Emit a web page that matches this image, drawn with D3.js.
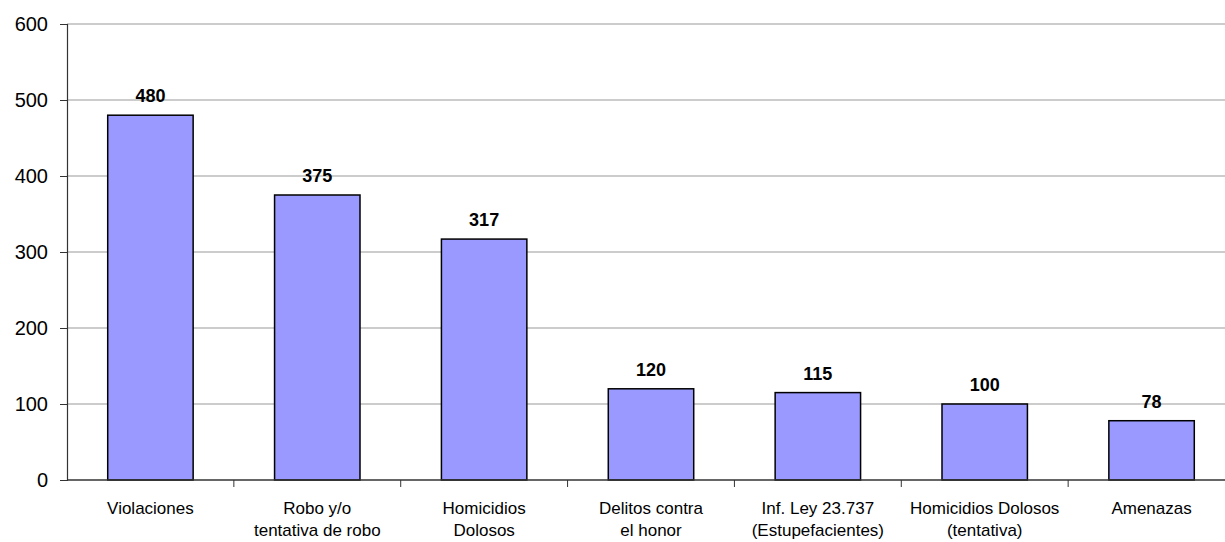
<!DOCTYPE html>
<html><head><meta charset="utf-8">
<script src="https://cdn.jsdelivr.net/npm/d3@7/dist/d3.min.js"></script>
<style>body{margin:0;background:#fff}svg{display:block}text{font-family:"Liberation Sans",Arial,sans-serif}</style>
</head><body>
<svg id="c" width="1225" height="542"></svg>
<script>
const categories = [
  ["Violaciones"],
  ["Robo y/o","tentativa de robo"],
  ["Homicidios","Dolosos"],
  ["Delitos contra","el honor"],
  ["Inf. Ley 23.737","(Estupefacientes)"],
  ["Homicidios Dolosos","(tentativa)"],
  ["Amenazas"]
];
const values = [480, 375, 317, 120, 115, 100, 78];
const yTicks = [0, 100, 200, 300, 400, 500, 600];

const svg = d3.select("#c");
const mLeft = 67, mTop = 24, mBottom = 480, mRight = 1235;
const x = d3.scaleBand().domain(d3.range(categories.length)).range([mLeft, mRight]).padding(0);
const y = d3.scaleLinear().domain([0, 600]).range([mBottom, mTop]);
const bw = x.bandwidth() * 0.512;

// gridlines
svg.append("g").selectAll("line").data(yTicks.filter(d => d > 0)).join("line")
  .attr("x1", mLeft).attr("x2", 1225)
  .attr("y1", d => y(d)).attr("y2", d => y(d))
  .attr("stroke", "#9a9a9a").attr("stroke-width", 1.2);

// bars
svg.append("g").selectAll("rect").data(values).join("rect")
  .attr("x", (d, i) => x(i) + x.bandwidth() / 2 - bw / 2)
  .attr("y", d => y(d))
  .attr("width", bw)
  .attr("height", d => y(0) - y(d))
  .attr("fill", "#9999ff").attr("stroke", "#000").attr("stroke-width", 1.5);

// value labels
svg.append("g").selectAll("text").data(values).join("text")
  .attr("x", (d, i) => x(i) + x.bandwidth() / 2)
  .attr("y", d => y(d) - 13)
  .attr("text-anchor", "middle").attr("font-size", 18).attr("font-weight", "bold")
  .text(d => d);

// y axis
const yAxis = svg.append("g").attr("transform", `translate(${mLeft},0)`)
  .call(d3.axisLeft(y).tickValues(yTicks).tickSize(7).tickPadding(12));
yAxis.select(".domain").attr("stroke", "#333").attr("stroke-width", 1.2);
yAxis.selectAll(".tick line").attr("stroke", "#333");
yAxis.selectAll(".tick text").attr("font-size", 20).attr("fill", "#000")
  .style("font-family", '"Liberation Sans",Arial,sans-serif');

// x axis
svg.append("line").attr("x1", mLeft).attr("x2", 1225).attr("y1", mBottom).attr("y2", mBottom)
  .attr("stroke", "#333").attr("stroke-width", 1.5);
svg.append("g").selectAll("line").data(d3.range(1, categories.length)).join("line")
  .attr("x1", d => x(d)).attr("x2", d => x(d))
  .attr("y1", mBottom).attr("y2", mBottom + 7)
  .attr("stroke", "#333");

const lab = svg.append("g").selectAll("text").data(categories).join("text")
  .attr("text-anchor", "middle").attr("font-size", 17)
  .attr("x", (d, i) => x(i) + x.bandwidth() / 2)
  .attr("y", 514);
lab.selectAll("tspan").data(d => d).join("tspan")
  .attr("x", function() { return this.parentNode.getAttribute("x"); })
  .attr("dy", (d, i) => i === 0 ? 0 : 22)
  .text(d => d);
</script>
</body></html>
